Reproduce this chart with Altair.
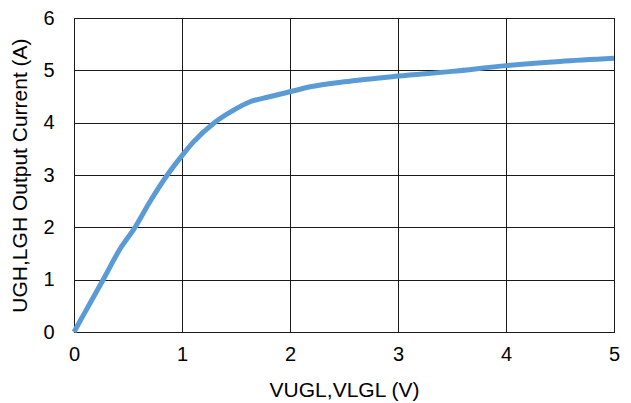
import altair as alt
import pandas as pd

# Gate drive output current vs. gate voltage
vgl_volts = [0, 0.1, 0.2, 0.27, 0.43, 0.565, 0.7, 0.864, 1.0, 1.1, 1.3, 1.47,
             1.63, 1.8, 2.0, 2.2, 2.5, 3.0, 3.5, 4.0, 4.5, 5.0]
out_current_amps = [0, 0.37, 0.74, 1.0, 1.6, 2.0, 2.48, 3.0, 3.37, 3.62, 4.0, 4.23,
                    4.40, 4.49, 4.59, 4.69, 4.78, 4.89, 4.98, 5.09, 5.17, 5.23]

df = pd.DataFrame({"v": vgl_volts, "i": out_current_amps})

FONT = "Liberation Sans"

chart = (
    alt.Chart(df)
    .mark_line(color="#5B9BD5", strokeWidth=5, interpolate="monotone", clip=False)
    .encode(
        x=alt.X(
            "v:Q",
            scale=alt.Scale(domain=[0, 5], nice=False),
            axis=alt.Axis(
                title="VUGL,VLGL (V)",
                values=[0, 1, 2, 3, 4, 5],
                labelFlush=False,
                labelPadding=12,
                titlePadding=15,
            ),
        ),
        y=alt.Y(
            "i:Q",
            scale=alt.Scale(domain=[0, 6], nice=False),
            axis=alt.Axis(
                title="UGH,LGH Output Current (A)",
                values=[0, 1, 2, 3, 4, 5, 6],
                labelPadding=20,
                titlePadding=12,
            ),
        ),
    )
    .properties(
        width=540,
        height=314,
        autosize=alt.AutoSizeParams(type="none"),
        padding={"left": 74, "top": 18, "right": 17, "bottom": 71},
    )
    .configure_view(stroke="#000000", strokeWidth=1)
    .configure_axis(
        grid=True,
        gridColor="#1a1a1a",
        gridWidth=1,
        gridOpacity=1,
        domain=False,
        ticks=False,
        labelFont=FONT,
        labelFontSize=20,
        labelColor="#000000",
        titleFont=FONT,
        titleFontSize=21,
        titleFontWeight="normal",
        titleColor="#000000",
    )
)

chart.save("out.html", embed_options={"renderer": "svg", "actions": False})
